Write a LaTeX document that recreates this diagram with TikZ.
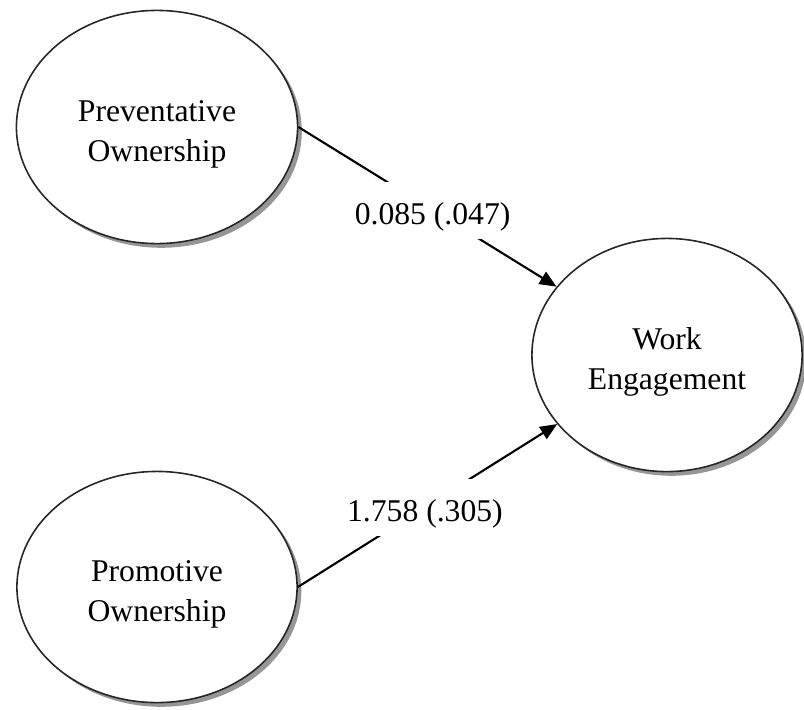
\documentclass[tikz,border=0pt]{standalone}
\usepackage{fontspec}
\setmainfont{Liberation Serif}
\usetikzlibrary{shapes.geometric,shadows,arrows.meta}

% invisible struts that give the text room above its first line
\newcommand{\namestrut}{\rule{0pt}{10pt}}
\newcommand{\coefstrut}{\rule{0pt}{10pt}}

\tikzset{
  construct/.style={ellipse, draw=black!85, line width=0.45pt, fill=white,
    inner sep=0pt, align=center,
    font=\fontsize{9}{11.4}\selectfont,
    drop shadow={shadow xshift=1.2pt, shadow yshift=-1.2pt, fill=black!55, opacity=0.75}},
  path/.style={line width=0.6pt, -{Triangle[length=4.8pt,width=4pt]}},
  coef/.style={fill=white, inner xsep=1pt, inner ysep=0pt, minimum height=0.57cm,
    font=\fontsize{9}{11}\selectfont}
}

\begin{document}
\begin{tikzpicture}[x=0.01cm, y=-0.01cm]
  \useasboundingbox (0,0) rectangle (804,709);

  % latent constructs
  \node[construct, minimum width=2.81cm, minimum height=2.33cm] (pre) at (157,127)
    {\namestrut Preventative\\Ownership};
  \node[construct, minimum width=2.80cm, minimum height=2.31cm] (pro) at (157,587)
    {\namestrut Promotive\\Ownership};
  \node[construct, minimum width=2.70cm, minimum height=2.33cm] (we) at (667,355)
    {\namestrut Work\\Engagement};

  % structural paths with estimates (standard errors)
  \draw[path] (pre.east) -- node[coef, pos=0.52] {\coefstrut 0.085 (.047)} (we);
  \draw[path] (pro.east) -- node[coef, pos=0.49] {\coefstrut 1.758 (.305)} (we);
\end{tikzpicture}
\end{document}
